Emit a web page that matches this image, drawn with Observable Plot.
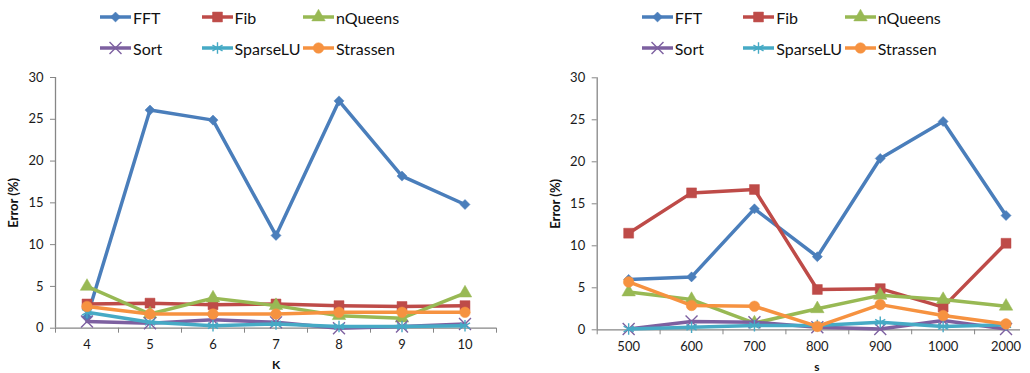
<!DOCTYPE html>
<html><head><meta charset="utf-8">
<script src="https://cdn.jsdelivr.net/npm/d3@7"></script>
<script src="https://cdn.jsdelivr.net/npm/@observablehq/plot@0.6"></script>
<style>
body{margin:0;background:#fff;font-family:Lato,"Open Sans",sans-serif;}
#wrap{position:relative;width:1030px;height:373px;overflow:hidden;background:#fff;}
.panel{position:absolute;top:0;width:515px;height:373px;}
.item{position:absolute;display:flex;align-items:center;font-size:16px;color:#111;height:20px;white-space:nowrap;transform:translateY(-50%);}
.item svg{display:block;margin-right:2px;}
.panel .chart{position:absolute;top:62px;left:0;}
</style>
</head><body>
<div id="wrap"></div>
<script>
// ---- data ----
const seriesNames = ["FFT","Fib","nQueens","Sort","SparseLU","Strassen"];
const kCategories = ["4","5","6","7","8","9","10"];
const sCategories = ["500","600","700","800","900","1000","2000"];
const yTicks = [0,5,10,15,20,25,30];

const kFFT      = [1.3,26.1,24.9,11.1,27.2,18.2,14.8];
const kFib      = [2.9,3.0,2.8,2.9,2.7,2.6,2.7];
const kNQueens  = [5.0,1.7,3.6,2.7,1.5,1.2,4.2];
const kSort     = [0.8,0.6,1.0,0.7,0.0,0.2,0.5];
const kSparseLU = [1.9,0.7,0.3,0.5,0.2,0.2,0.3];
const kStrassen = [2.6,1.7,1.7,1.7,1.9,1.9,1.9];

const sFFT      = [6.0,6.3,14.4,8.7,20.4,24.8,13.6];
const sFib      = [11.5,16.3,16.7,4.8,4.9,2.7,10.3];
const sNQueens  = [4.5,3.6,0.8,2.5,4.1,3.6,2.8];
const sSort     = [0.1,1.0,0.9,0.3,0.1,1.1,0.1];
const sSparseLU = [0.1,0.3,0.5,0.5,0.9,0.4,0.6];
const sStrassen = [5.7,2.9,2.8,0.4,3.0,1.7,0.7];

// ---- styles ----
const styles = {
  FFT:      {color:"#4A7EBB", symbol:"square",   r:4.0, rotate:45, filled:true},
  Fib:      {color:"#BE4B48", symbol:"square",   r:5.6, rotate:0,  filled:true},
  nQueens:  {color:"#98B954", symbol:"triangle", r:5.0, rotate:0,  filled:true},
  Sort:     {color:"#7D60A0", symbol:"times",    r:5.5, rotate:0,  filled:false},
  SparseLU: {color:"#46AAC5", symbol:"asterisk", r:5.5, rotate:0,  filled:false},
  Strassen: {color:"#F69240", symbol:"circle",   r:5.3, rotate:0,  filled:true}
};
const d3Sym = {square:d3.symbolSquare, triangle:d3.symbolTriangle, times:d3.symbolTimes, asterisk:d3.symbolAsterisk, circle:d3.symbolCircle};
const axisColor = "#868686";

const wrap = document.getElementById("wrap");

function makePanel(left, cats, vals, cfg) {
  const panel = document.createElement("div");
  panel.className = "panel";
  panel.style.left = left + "px";
  wrap.appendChild(panel);

  // legend
  seriesNames.forEach((name, k) => {
    const st = styles[name];
    const row = Math.floor(k / 3), col = k % 3;
    const item = document.createElement("div");
    item.className = "item";
    item.style.left = (cfg.legendX + col * 101.5) + "px";
    item.style.top = cfg.legendRows[row] + "px";
    const svg = d3.create("svg").attr("width", 31).attr("height", 16);
    svg.append("line").attr("x1", 0).attr("x2", 31).attr("y1", 8).attr("y2", 8)
      .attr("stroke", st.color).attr("stroke-width", 3.5);
    svg.append("path")
      .attr("d", d3.symbol(d3Sym[st.symbol], Math.PI * st.r * st.r)())
      .attr("transform", `translate(15.5,8) rotate(${st.rotate})`)
      .attr("fill", st.filled ? st.color : "none")
      .attr("stroke", st.color).attr("stroke-width", st.filled ? 0.5 : 1.4);
    item.appendChild(svg.node());
    const t = document.createElement("span");
    t.textContent = name;
    item.appendChild(t);
    panel.appendChild(item);
  });

  const n = cats.length;
  const xDomain = [-0.5, cfg.xMax];
  const bounds = d3.range(n + 1).map(j => j - 0.5).filter(b => b <= cfg.xMax);
  const idx = d3.range(n);

  const marks = [
    Plot.ruleY([0], {stroke: axisColor, strokeWidth: 1.3}),
    Plot.ruleX([xDomain[0]], {stroke: axisColor, strokeWidth: 1.3}),
    Plot.axisY({ticks: yTicks, tickSize: 5, tickPadding: 7, label: null, stroke: axisColor, fill: "#1a1a1a", fontSize: 13}),
    Plot.axisX({ticks: bounds, tickSize: 5, tickFormat: () => "", label: null, stroke: axisColor}),
    Plot.axisX({ticks: idx, tickSize: 0, tickPadding: 12, tickFormat: i => cats[i], label: null, fill: "#1a1a1a", fontSize: 13}),
    Plot.text(["Error (%)"], {frameAnchor: "left", dx: cfg.yLabelDx, rotate: -90, textAnchor: "middle", fontWeight: "bold", fontSize: 13, fill: "#111"}),
    Plot.text([cfg.xLabel], {frameAnchor: "bottom", dy: 37, dx: cfg.xLabelDx, lineAnchor: "middle", textAnchor: "middle", fontWeight: "bold", fontSize: 12, fill: "#111"})
  ];
  seriesNames.forEach((name, si) => {
    const st = styles[name];
    const rows = vals[si].map((v, i) => ({i, v}));
    marks.push(Plot.line(rows, {x: "i", y: "v", stroke: st.color, strokeWidth: 3.5, strokeLinejoin: "round"}));
    marks.push(Plot.dot(rows, {x: "i", y: "v", symbol: st.symbol, r: st.r, rotate: st.rotate,
      fill: st.filled ? st.color : "none", stroke: st.color, strokeWidth: st.filled ? 0.5 : 1.4}));
  });

  const chart = Plot.plot({
    width: 515, height: 311,
    marginLeft: cfg.marginLeft, marginRight: cfg.marginRight, marginTop: cfg.marginTop, marginBottom: cfg.marginBottom,
    x: {type: "linear", domain: xDomain, axis: null},
    y: {domain: [0, 30], axis: null},
    style: {fontFamily: "Lato, 'Open Sans', sans-serif", fontSize: "12px", background: "transparent", color: "#1a1a1a", overflow: "visible"},
    marks
  });
  chart.classList.add("chart");
  panel.appendChild(chart);
}

makePanel(0, kCategories, [kFFT, kFib, kNQueens, kSort, kSparseLU, kStrassen], {
  legendX: 100, legendRows: [17, 48],
  xMax: 6.5, marginLeft: 55, marginRight: 19, marginTop: 15, marginBottom: 45.3,
  yLabelDx: -42, xLabel: "K", xLabelDx: 0
});
makePanel(515, sCategories, [sFFT, sFib, sNQueens, sSort, sSparseLU, sStrassen], {
  legendX: 126.7, legendRows: [17, 48],
  xMax: 6.23, marginLeft: 81.7, marginRight: 10, marginTop: 15.3, marginBottom: 43.7,
  yLabelDx: -41, xLabel: "s", xLabelDx: 8
});
</script>
</body></html>
